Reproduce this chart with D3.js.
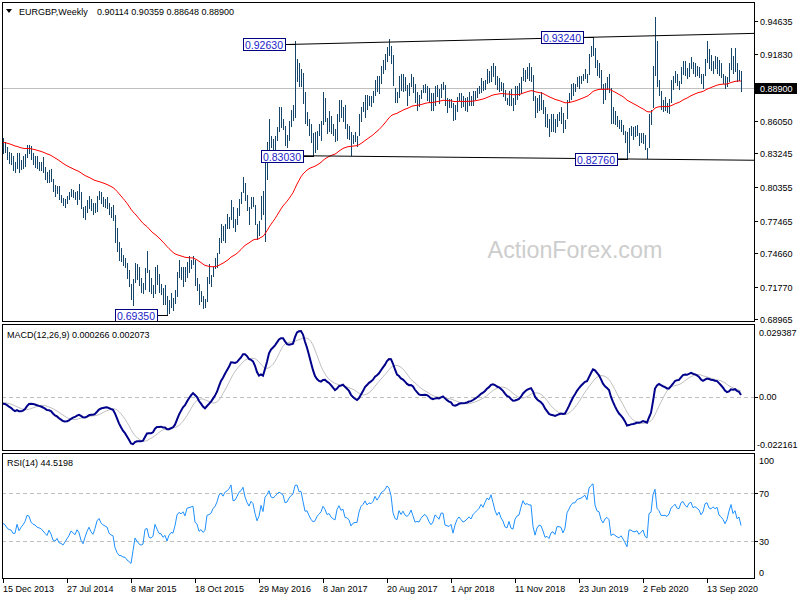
<!DOCTYPE html>
<html><head><meta charset="utf-8">
<script src="https://cdn.jsdelivr.net/npm/d3@7"></script>
<style>
body{margin:0;background:#fff}
svg{display:block}
text{font-family:"Liberation Sans",Arial,sans-serif}
</style>
</head><body>
<svg id="c" width="800" height="600"></svg>
<script>
// ---------------- DATA ----------------
const symbolTitle = "EURGBP,Weekly";
const lastOHLC = ["0.90114", "0.90359", "0.88648", "0.88900"];
const lastClose = 0.88900;

const highs = [
0.8460,0.8420,0.8380,0.8340,0.8330,0.8300,0.8250,0.8330,0.8330,0.8270,
0.8300,0.8320,0.8395,0.8400,0.8390,0.8330,0.8300,0.8300,0.8250,0.8250,
0.8290,0.8210,0.8160,0.8180,0.8190,0.8100,0.8050,0.8040,0.8040,0.7970,
0.7940,0.7930,0.7960,0.7990,0.8020,0.8010,0.7990,0.8000,0.8060,0.7990,
0.7860,0.7870,0.7920,0.7960,0.7930,0.7900,0.7900,0.7960,0.8000,0.7990,
0.7950,0.7930,0.7950,0.7900,0.7860,0.7880,0.7790,0.7680,0.7560,0.7510,
0.7450,0.7420,0.7380,0.7320,0.7200,0.7240,0.7380,0.7370,0.7350,0.7250,
0.7210,0.7340,0.7480,0.7320,0.7250,0.7190,0.7350,0.7360,0.7290,0.7200,
0.7170,0.7190,0.7100,0.7060,0.7120,0.7080,0.7150,0.7300,0.7410,0.7350,
0.7350,0.7350,0.7390,0.7440,0.7410,0.7440,0.7410,0.7250,0.7200,0.7140,
0.7100,0.7070,0.7260,0.7370,0.7280,0.7350,0.7420,0.7470,0.7600,0.7720,
0.7700,0.7720,0.7800,0.7780,0.7920,0.7860,0.7760,0.7850,0.7930,0.7990,
0.8120,0.8070,0.7970,0.7860,0.7950,0.7950,0.7880,0.7720,0.7740,0.7960,
0.8000,0.8300,0.8420,0.8620,0.8470,0.8450,0.8470,0.8550,0.8720,0.8725,
0.8620,0.8560,0.8480,0.8600,0.8700,0.8740,0.9295,0.9140,0.9100,0.9050,
0.9020,0.8850,0.8680,0.8620,0.8580,0.8500,0.8510,0.8520,0.8580,0.8600,
0.8850,0.8800,0.8630,0.8690,0.8650,0.8580,0.8530,0.8660,0.8780,0.8780,
0.8720,0.8740,0.8580,0.8560,0.8510,0.8480,0.8510,0.8470,0.8660,0.8720,
0.8770,0.8830,0.8830,0.8820,0.8820,0.8860,0.8960,0.8990,0.8990,0.9080,
0.9130,0.9180,0.9240,0.9307,0.9250,0.9170,0.8890,0.8850,0.8990,0.9010,
0.9010,0.8980,0.8910,0.8930,0.9010,0.8980,0.8920,0.8850,0.8830,0.8870,
0.8910,0.8920,0.8900,0.8890,0.8840,0.8840,0.8900,0.8910,0.8880,0.8920,
0.8940,0.8910,0.8800,0.8790,0.8790,0.8760,0.8740,0.8810,0.8840,0.8840,
0.8820,0.8800,0.8810,0.8850,0.8820,0.8860,0.8860,0.8890,0.8900,0.8970,
0.8950,0.8960,0.9050,0.9030,0.9080,0.9100,0.9080,0.8990,0.8970,0.8940,
0.8930,0.8870,0.8800,0.8860,0.8880,0.8800,0.8900,0.8900,0.8930,0.8980,
0.9060,0.9040,0.9070,0.9100,0.9070,0.9000,0.8820,0.8800,0.8830,0.8850,
0.8780,0.8720,0.8660,0.8620,0.8660,0.8660,0.8620,0.8660,0.8680,0.8720,
0.8670,0.8610,0.8780,0.8840,0.8920,0.8930,0.8920,0.8980,0.8990,0.8990,
0.9010,0.9050,0.9010,0.9180,0.9250,0.9325,0.9230,0.9130,0.9100,0.9040,
0.8920,0.8930,0.8980,0.9010,0.8890,0.8720,0.8690,0.8650,0.8610,0.8610,
0.8570,0.8520,0.8510,0.8540,0.8560,0.8550,0.8560,0.8570,0.8500,0.8500,
0.8500,0.8480,0.8370,0.8660,0.8700,0.9080,0.9500,0.9290,0.8960,0.8860,
0.8780,0.8810,0.8760,0.8790,0.8960,0.8990,0.9030,0.9010,0.8950,0.9070,
0.9120,0.9120,0.9060,0.9100,0.9150,0.9110,0.9100,0.9080,0.9070,0.9010,
0.9010,0.9140,0.9290,0.9220,0.9170,0.9120,0.9160,0.9150,0.9130,0.9100,
0.9010,0.8990,0.8980,0.9100,0.9230,0.9160,0.9230,0.9100,0.9040,0.90359];

const lows = [
0.8330,0.8340,0.8280,0.8240,0.8230,0.8180,0.8160,0.8200,0.8160,0.8190,
0.8200,0.8220,0.8290,0.8330,0.8280,0.8230,0.8210,0.8200,0.8180,0.8180,
0.8160,0.8100,0.8080,0.8080,0.8090,0.8000,0.7960,0.7980,0.7930,0.7910,
0.7880,0.7860,0.7900,0.7930,0.7960,0.7950,0.7930,0.7890,0.7930,0.7850,
0.7780,0.7760,0.7820,0.7850,0.7840,0.7800,0.7820,0.7830,0.7930,0.7900,
0.7870,0.7860,0.7850,0.7800,0.7780,0.7750,0.7560,0.7480,0.7410,0.7400,
0.7360,0.7350,0.7250,0.7180,0.7070,0.7017,0.7220,0.7240,0.7190,0.7130,
0.7120,0.7160,0.7300,0.7140,0.7120,0.7090,0.7120,0.7200,0.7130,0.7110,
0.7030,0.7030,0.6935,0.6950,0.7000,0.6980,0.7040,0.7100,0.7260,0.7240,
0.7180,0.7230,0.7260,0.7300,0.7340,0.7370,0.7190,0.7150,0.7030,0.7050,
0.6990,0.7000,0.7050,0.7210,0.7180,0.7270,0.7340,0.7350,0.7470,0.7560,
0.7580,0.7560,0.7680,0.7680,0.7760,0.7690,0.7660,0.7720,0.7790,0.7900,
0.7990,0.7920,0.7840,0.7720,0.7850,0.7870,0.7720,0.7590,0.7620,0.7760,
0.7800,0.7570,0.8100,0.8350,0.8380,0.8300,0.8300,0.8440,0.8520,0.8550,
0.8530,0.8400,0.8380,0.8440,0.8560,0.8610,0.8640,0.8950,0.8900,0.8900,
0.8760,0.8590,0.8570,0.8480,0.8420,0.8303,0.8340,0.8360,0.8480,0.8440,
0.8580,0.8600,0.8500,0.8520,0.8500,0.8480,0.8430,0.8440,0.8600,0.8640,
0.8600,0.8540,0.8460,0.8450,0.8310,0.8410,0.8430,0.8390,0.8480,0.8600,
0.8690,0.8640,0.8710,0.8740,0.8730,0.8770,0.8830,0.8860,0.8840,0.8930,
0.9020,0.9050,0.9120,0.9170,0.9100,0.8910,0.8770,0.8770,0.8810,0.8870,
0.8860,0.8870,0.8740,0.8830,0.8900,0.8850,0.8770,0.8700,0.8730,0.8800,
0.8850,0.8850,0.8780,0.8770,0.8700,0.8700,0.8740,0.8820,0.8760,0.8810,
0.8880,0.8740,0.8680,0.8720,0.8720,0.8610,0.8620,0.8690,0.8780,0.8720,
0.8730,0.8700,0.8690,0.8740,0.8740,0.8740,0.8790,0.8810,0.8840,0.8850,
0.8870,0.8880,0.8930,0.8940,0.8950,0.8990,0.8920,0.8880,0.8860,0.8870,
0.8820,0.8780,0.8750,0.8740,0.8740,0.8700,0.8750,0.8790,0.8830,0.8840,
0.8960,0.8950,0.8970,0.8960,0.8950,0.8780,0.8640,0.8680,0.8700,0.8710,
0.8670,0.8560,0.8550,0.8470,0.8520,0.8520,0.8510,0.8560,0.8610,0.8590,
0.8510,0.8540,0.8630,0.8770,0.8790,0.8830,0.8860,0.8900,0.8890,0.8930,
0.8960,0.8970,0.8940,0.9010,0.9160,0.9170,0.9070,0.9000,0.8980,0.8890,
0.8760,0.8790,0.8880,0.8850,0.8590,0.8590,0.8580,0.8560,0.8540,0.8520,
0.8490,0.8420,0.8276,0.8340,0.8480,0.8450,0.8470,0.8480,0.8400,0.8420,
0.8410,0.8360,0.8282,0.8380,0.8580,0.8720,0.9000,0.8900,0.8830,0.8710,
0.8690,0.8700,0.8680,0.8670,0.8770,0.8880,0.8940,0.8910,0.8880,0.8930,
0.9010,0.9000,0.8970,0.8990,0.9060,0.9020,0.8990,0.9000,0.8980,0.8930,
0.8890,0.9000,0.9110,0.9060,0.9040,0.9020,0.9060,0.9020,0.9000,0.8980,
0.8930,0.8890,0.8900,0.8950,0.9050,0.9020,0.9030,0.8950,0.8960,0.88648];

const closes = [
0.8380,0.8360,0.8300,0.8270,0.8260,0.8200,0.8200,0.8300,0.8190,0.8230,
0.8260,0.8300,0.8380,0.8370,0.8290,0.8260,0.8250,0.8220,0.8210,0.8200,
0.8170,0.8140,0.8110,0.8150,0.8100,0.8010,0.7990,0.8010,0.7940,0.7930,
0.7900,0.7920,0.7940,0.7960,0.7990,0.7970,0.7950,0.7980,0.7950,0.7860,
0.7810,0.7850,0.7890,0.7920,0.7870,0.7840,0.7880,0.7940,0.7960,0.7920,
0.7900,0.7890,0.7880,0.7820,0.7800,0.7790,0.7620,0.7510,0.7430,0.7420,
0.7380,0.7370,0.7280,0.7220,0.7130,0.7220,0.7330,0.7260,0.7200,0.7170,
0.7180,0.7320,0.7330,0.7170,0.7150,0.7170,0.7300,0.7220,0.7140,0.7130,
0.7060,0.7080,0.6960,0.7020,0.7050,0.7040,0.7120,0.7260,0.7300,0.7280,
0.7310,0.7260,0.7370,0.7380,0.7390,0.7400,0.7210,0.7180,0.7060,0.7080,
0.7030,0.7050,0.7240,0.7250,0.7270,0.7340,0.7370,0.7450,0.7590,0.7630,
0.7600,0.7690,0.7720,0.7770,0.7880,0.7710,0.7720,0.7800,0.7910,0.7950,
0.8050,0.7940,0.7870,0.7820,0.7920,0.7890,0.7750,0.7620,0.7700,0.7930,
0.7820,0.8240,0.8350,0.8520,0.8400,0.8380,0.8440,0.8530,0.8600,0.8580,
0.8560,0.8430,0.8450,0.8560,0.8640,0.8690,0.9030,0.9050,0.8950,0.8960,
0.8800,0.8610,0.8620,0.8520,0.8440,0.8380,0.8400,0.8490,0.8530,0.8580,
0.8700,0.8650,0.8560,0.8580,0.8520,0.8490,0.8470,0.8650,0.8730,0.8660,
0.8680,0.8550,0.8540,0.8510,0.8400,0.8440,0.8450,0.8450,0.8600,0.8700,
0.8740,0.8810,0.8760,0.8800,0.8790,0.8830,0.8930,0.8890,0.8950,0.9040,
0.9080,0.9120,0.9220,0.9200,0.9130,0.8920,0.8830,0.8810,0.8960,0.8900,
0.8960,0.8900,0.8880,0.8910,0.8980,0.8900,0.8800,0.8810,0.8800,0.8850,
0.8880,0.8900,0.8870,0.8810,0.8770,0.8800,0.8880,0.8860,0.8830,0.8900,
0.8900,0.8760,0.8750,0.8740,0.8760,0.8640,0.8720,0.8780,0.8810,0.8780,
0.8750,0.8760,0.8780,0.8800,0.8780,0.8820,0.8840,0.8860,0.8880,0.8920,
0.8900,0.8950,0.9000,0.8990,0.9050,0.9000,0.8940,0.8900,0.8930,0.8880,
0.8850,0.8790,0.8780,0.8830,0.8760,0.8750,0.8830,0.8860,0.8870,0.8950,
0.9030,0.9000,0.9010,0.9000,0.9000,0.8800,0.8670,0.8740,0.8770,0.8760,
0.8690,0.8580,0.8590,0.8550,0.8600,0.8610,0.8570,0.8640,0.8640,0.8630,
0.8560,0.8600,0.8760,0.8810,0.8870,0.8900,0.8900,0.8950,0.8960,0.8970,
0.8990,0.9010,0.8980,0.9170,0.9230,0.9270,0.9080,0.9010,0.9000,0.8900,
0.8850,0.8900,0.8920,0.8890,0.8620,0.8640,0.8610,0.8580,0.8560,0.8580,
0.8520,0.8440,0.8340,0.8520,0.8520,0.8490,0.8490,0.8500,0.8440,0.8460,
0.8480,0.8380,0.8350,0.8640,0.8660,0.9060,0.9250,0.8900,0.8850,0.8740,
0.8740,0.8740,0.8720,0.8770,0.8900,0.8940,0.8990,0.8930,0.8920,0.9050,
0.9080,0.9030,0.9000,0.9080,0.9100,0.9030,0.9050,0.9030,0.9010,0.8950,
0.8990,0.9120,0.9140,0.9080,0.9070,0.9100,0.9080,0.9100,0.9020,0.9000,
0.8970,0.8920,0.8960,0.9060,0.9150,0.9050,0.9090,0.8990,0.9011,0.8890];

const maPeriod = 55, maSeed = 0.8420;
const ema12Seed = 0.8400, ema26Seed = 0.8430, signalSeed = -0.0024;
const rsiPrevClose = 0.8400, rsiGainSeed = 0.0035, rsiLossSeed = 0.0042;

const priceTicks = [0.94635, 0.91830, 0.86050, 0.83245, 0.80355, 0.77465, 0.74660, 0.71770, 0.68965];
const priceDomain = [0.68965, 0.94635];
const macdDomain = [-0.022161, 0.029387];
const macdTickLabels = ["0.029387", "0.00", "-0.022161"];
const rsiTicks = [100, 70, 30, 0];
const rsiLevels = [70, 30];
const dateTickIndex = [0, 32, 64, 96, 128, 160, 192, 224, 256, 288, 320, 352];
const dateTickLabels = ["15 Dec 2013", "27 Jul 2014", "8 Mar 2015", "18 Oct 2015", "29 May 2016", "8 Jan 2017",
  "20 Aug 2017", "1 Apr 2018", "11 Nov 2018", "23 Jun 2019", "2 Feb 2020", "13 Sep 2020"];
const pointLabels = [
  {i: 146, p: 0.9263, t: "0.92630"},
  {i: 155, p: 0.8303, t: "0.83030"},
  {i: 82,  p: 0.6935, t: "0.69350"},
  {i: 295, p: 0.9324, t: "0.93240"},
  {i: 312, p: 0.8276, t: "0.82760"}];
const trendLines = [[146, 0.9263, 295, 0.9324], [155, 0.8303, 312, 0.8276]];
const macdHeader = "MACD(12,26,9) 0.000266 0.002073";
const rsiHeader = "RSI(14) 44.5198";
const watermark = "ActionForex.com";

// ---------------- INDICATORS ----------------
function ema(arr, n, seed) { const k = 2 / (n + 1); let e = seed; return arr.map(v => (e = e + k * (v - e))); }
const ma = ema(closes, maPeriod, maSeed);
const e12 = ema(closes, 12, ema12Seed), e26 = ema(closes, 26, ema26Seed);
const macd = closes.map((c, i) => e12[i] - e26[i]);
const signal = macd.map((m, i) => {
  let s = 0;
  for (let j = i - 8; j <= i; j++) s += j >= 0 ? macd[j] : signalSeed;
  return s / 9;
});
let ag = rsiGainSeed, al = rsiLossSeed, prev = rsiPrevClose;
const rsi = closes.map(c => {
  const d = c - prev; prev = c;
  ag = (ag * 13 + Math.max(d, 0)) / 14;
  al = (al * 13 + Math.max(-d, 0)) / 14;
  return 100 - 100 / (1 + ag / al);
});

// ---------------- LAYOUT ----------------
const svg = d3.select("#c");
const n = closes.length;
const L = 2, R = 754;
const main = {top: 2, bottom: 321}, mp = {top: 324, bottom: 450}, rp = {top: 453, bottom: 578};
const x = d3.scaleLinear().domain([0, n - 1]).range([3, 741]);
const yP = d3.scaleLinear().domain(priceDomain).range([319.3, 21]);
const yM = d3.scaleLinear().domain(macdDomain).range([450, 326]);
const yR = d3.scaleLinear().domain([0, 100]).range([577, 457]);

const defs = svg.append("defs");
function clip(id, top, bottom) {
  defs.append("clipPath").attr("id", id).append("rect")
    .attr("x", L + 1).attr("y", top + 1).attr("width", R - L - 1).attr("height", bottom - top - 1);
}
clip("cm", main.top, main.bottom); clip("cmacd", mp.top, mp.bottom); clip("crsi", rp.top, rp.bottom);

// watermark
svg.append("text").attr("x", 575).attr("y", 258).attr("text-anchor", "middle")
  .attr("font-size", 23.3).attr("fill", "#cdcdcd").text(watermark);

// ---- main panel ----
const gm = svg.append("g").attr("clip-path", "url(#cm)");
// current price line
gm.append("line").attr("x1", L).attr("x2", R).attr("y1", Math.round(yP(lastClose)) + 0.5)
  .attr("y2", Math.round(yP(lastClose)) + 0.5).attr("stroke", "#c0c0c0");
// bars
gm.append("g").selectAll("line").data(closes).join("line")
  .attr("x1", (d, i) => Math.round(x(i)) + 0.5).attr("x2", (d, i) => Math.round(x(i)) + 0.5)
  .attr("y1", (d, i) => Math.round(yP(highs[i])))
  .attr("y2", (d, i) => Math.round(yP(lows[i])) + 1)
  .attr("stroke", "#15466a").attr("stroke-width", 1).attr("shape-rendering", "crispEdges");
// MA
gm.append("path").datum(ma).attr("fill", "none").attr("stroke", "#ff0000").attr("stroke-width", 1)
  .attr("d", d3.line().x((d, i) => x(i)).y(d => yP(d)));
// trend lines
trendLines.forEach(([i1, p1, i2, p2]) => {
  const slope = (p2 - p1) / (i2 - i1);
  const xs = x(i1) - 10, xe = R;
  const pAt = px => p1 + slope * (x.invert(px) - i1);
  gm.append("line").attr("x1", xs).attr("x2", xe).attr("y1", yP(pAt(xs))).attr("y2", yP(pAt(xe)))
    .attr("stroke", "#000").attr("stroke-width", 1);
});
// point labels
pointLabels.forEach(d => {
  const bx = Math.round(x(d.i)) - 10, by = Math.round(yP(d.p));
  gm.append("line").attr("x1", bx).attr("x2", Math.round(x(d.i)) + 1).attr("y1", by + 0.5).attr("y2", by + 0.5)
    .attr("stroke", "#000");
  gm.append("rect").attr("x", bx - 42 + 0.5).attr("y", by - 6 + 0.5).attr("width", 42).attr("height", 12)
    .attr("fill", "#fff").attr("stroke", "#000080");
  gm.append("text").attr("x", bx - 21).attr("y", by + 4.5).attr("text-anchor", "middle")
    .attr("font-size", 10.5).attr("fill", "#2323c8").text(d.t);
});

// ---- MACD panel ----
const gmac = svg.append("g").attr("clip-path", "url(#cmacd)");
gmac.append("line").attr("x1", L).attr("x2", R).attr("y1", Math.round(yM(0)) + 0.5).attr("y2", Math.round(yM(0)) + 0.5)
  .attr("stroke", "#c0c0c0").attr("stroke-dasharray", "4,3");
gmac.append("path").datum(signal).attr("fill", "none").attr("stroke", "#c0c0c0").attr("stroke-width", 1)
  .attr("d", d3.line().x((d, i) => x(i)).y(d => yM(d)));
gmac.append("path").datum(macd).attr("fill", "none").attr("stroke", "#00008b").attr("stroke-width", 2)
  .attr("d", d3.line().x((d, i) => x(i)).y(d => yM(d)));

// ---- RSI panel ----
const grsi = svg.append("g").attr("clip-path", "url(#crsi)");
rsiLevels.forEach(v => grsi.append("line").attr("x1", L).attr("x2", R)
  .attr("y1", Math.round(yR(v)) + 0.5).attr("y2", Math.round(yR(v)) + 0.5)
  .attr("stroke", "#c0c0c0").attr("stroke-dasharray", "4,3"));
grsi.append("path").datum(rsi).attr("fill", "none").attr("stroke", "#1e90ff").attr("stroke-width", 1)
  .attr("d", d3.line().x((d, i) => x(i)).y(d => yR(d)));

// ---- frames ----
[main, mp, rp].forEach(p => svg.append("rect").attr("x", L + 0.5).attr("y", p.top + 0.5)
  .attr("width", R - L).attr("height", p.bottom - p.top).attr("fill", "none").attr("stroke", "#000"));

// ---- right axes ----
const ax = svg.append("g").attr("font-size", 9).attr("fill", "#000");
priceTicks.forEach(v => {
  const yy = Math.round(yP(v));
  ax.append("line").attr("x1", R).attr("x2", R + 4).attr("y1", yy + 0.5).attr("y2", yy + 0.5).attr("stroke", "#000");
  ax.append("text").attr("x", 760).attr("y", yy + 3.5).text(v.toFixed(5));
});
{
  const yy = Math.round(yP(lastClose));
  ax.append("rect").attr("x", 755).attr("y", yy - 5).attr("width", 42).attr("height", 11).attr("fill", "#000");
  ax.append("text").attr("x", 760).attr("y", yy + 4).attr("fill", "#fff").text(lastOHLC[3]);
}
[[326, 0], [yM(0), 1], [450, 2]].forEach(([yy, k]) => {
  const ty = k === 0 ? 336 : k === 2 ? 447.5 : yy + 3.5;
  if (k === 1) ax.append("line").attr("x1", R).attr("x2", R + 4).attr("y1", Math.round(yy) + 0.5).attr("y2", Math.round(yy) + 0.5).attr("stroke", "#000");
  ax.append("text").attr("x", k === 2 ? 757 : 759).attr("y", ty).text(macdTickLabels[k]);
});
rsiTicks.forEach(v => {
  const yy = yR(v);
  const ty = v === 100 ? 463.5 : v === 0 ? 575.5 : Math.round(yy) + 3.5;
  if (v === 70 || v === 30) ax.append("line").attr("x1", R).attr("x2", R + 4).attr("y1", Math.round(yy) + 0.5).attr("y2", Math.round(yy) + 0.5).attr("stroke", "#000");
  ax.append("text").attr("x", 759).attr("y", ty).text(v);
});

// ---- date axis ----
dateTickIndex.forEach((idx, k) => {
  const xx = Math.round(x(idx)) + 0.5;
  ax.append("line").attr("x1", xx).attr("x2", xx).attr("y1", rp.bottom).attr("y2", rp.bottom + 5).attr("stroke", "#000");
  ax.append("text").attr("x", xx - 0.5).attr("y", 591.5).text(dateTickLabels[k]);
});

// ---- headers ----
svg.append("path").attr("d", "M6,9 L12,9 L9,13 Z").attr("fill", "#000");
ax.append("text").attr("x", 19).attr("y", 14.5).text(symbolTitle);
ax.append("text").attr("x", 97).attr("y", 14.5).text(lastOHLC.join(" "));
ax.append("text").attr("x", 7).attr("y", 337.5).text(macdHeader);
ax.append("text").attr("x", 7).attr("y", 466).text(rsiHeader);
</script>
</body></html>
